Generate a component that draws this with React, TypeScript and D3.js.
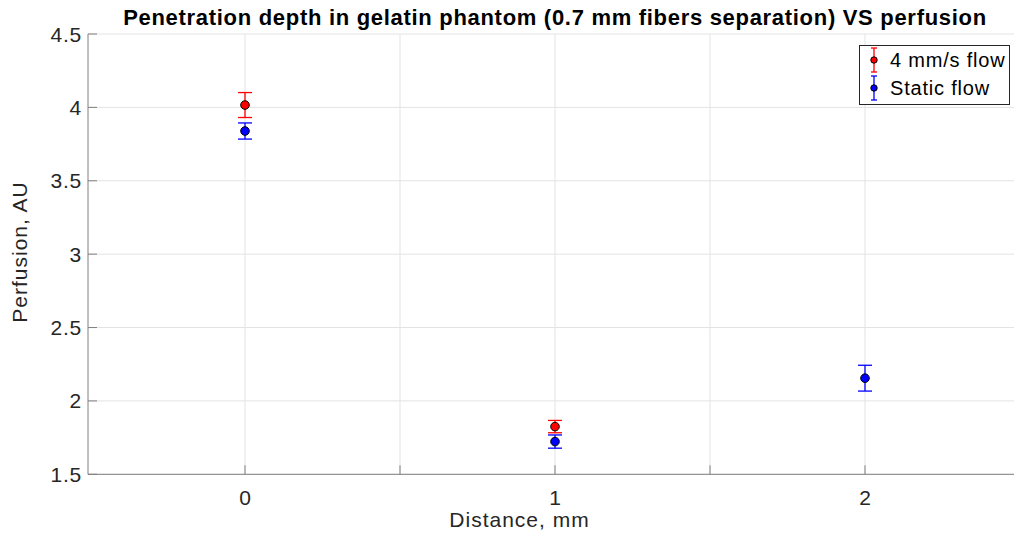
import React from "react";
import * as d3 from "d3";

const distances = [0, 1, 2];
const flowMeans = [4.016, 1.825];
const flowErrors = [0.085, 0.042];
const staticMeans = [3.839, 1.723, 2.155];
const staticErrors = [0.055, 0.045, 0.088];
const xTicks = [0, 1, 2];
const xMinorTicks = [0.5, 1.5];
const yTicks = [1.5, 2, 2.5, 3, 3.5, 4, 4.5];

const W = 1016;
const H = 536;
const M = { left: 88, right: 2, top: 34, bottom: 62 };
const FONT = "'Liberation Sans', Arial, Helvetica, sans-serif";

type Series = { name: string; color: string; means: number[]; errors: number[] };
const series: Series[] = [
  { name: "4 mm/s flow", color: "#ff0000", means: flowMeans, errors: flowErrors },
  { name: "Static flow", color: "#0000ff", means: staticMeans, errors: staticErrors },
];

export default function App() {
  const x = d3.scaleLinear().domain([0, 2]).range([245, 865]);
  const y = d3.scaleLinear().domain([1.5, 4.5]).range([474.3, M.top]);
  const plotRight = W - M.right;
  const bottom = y(1.5);
  const gridX = [...xTicks, ...xMinorTicks];
  const cap = 7;

  return (
    <svg width={W} height={H} style={{ position: "absolute", left: 0, top: 0, background: "#fff" }} fontFamily={FONT}>
      {/* grid */}
      {gridX.map((t) => (
        <line key={"gx" + t} x1={x(t)} x2={x(t)} y1={M.top} y2={bottom} stroke="#e3e3e3" strokeWidth={1} />
      ))}
      {yTicks.map((t) => (
        <line key={"gy" + t} x1={M.left} x2={plotRight} y1={y(t)} y2={y(t)} stroke="#e3e3e3" strokeWidth={1} />
      ))}
      {/* axes */}
      <line x1={M.left} x2={M.left} y1={M.top} y2={bottom} stroke="#808080" strokeWidth={1} />
      <line x1={M.left} x2={plotRight} y1={bottom} y2={bottom} stroke="#808080" strokeWidth={1} />
      {yTicks.map((t) => (
        <g key={"yt" + t}>
          <line x1={M.left} x2={M.left + 9} y1={y(t)} y2={y(t)} stroke="#808080" />
          <text x={M.left - 6} y={y(t)} dy="0.36em" textAnchor="end" fontSize={21} letterSpacing={0.8} fill="#262626">
            {t}
          </text>
        </g>
      ))}
      {gridX.map((t) => (
        <line key={"xt" + t} x1={x(t)} x2={x(t)} y1={bottom} y2={bottom - 9} stroke="#808080" />
      ))}
      {xTicks.map((t) => (
        <text key={"xl" + t} x={x(t)} y={505} textAnchor="middle" fontSize={21} fill="#262626">
          {t}
        </text>
      ))}
      <text x={519.5} y={527} textAnchor="middle" fontSize={21} letterSpacing={1} fill="#262626">
        Distance, mm
      </text>
      <text
        transform={`translate(27,252) rotate(-90)`}
        textAnchor="middle"
        fontSize={21}
        letterSpacing={1}
        fill="#262626"
      >
        Perfusion, AU
      </text>
      <text x={555} y={25} textAnchor="middle" fontSize={22} fontWeight="bold" letterSpacing={0.7} fill="#000">
        Penetration depth in gelatin phantom (0.7 mm fibers separation) VS perfusion
      </text>
      {/* error bars and markers */}
      {series.map((s) =>
        s.means.map((m, i) => {
          const cx = x(distances[i]);
          const e = s.errors[i];
          return (
            <g key={s.name + i}>
              <line x1={cx} x2={cx} y1={y(m + e)} y2={y(m - e)} stroke={s.color} strokeWidth={1.3} />
              <line x1={cx - cap} x2={cx + cap} y1={y(m + e)} y2={y(m + e)} stroke={s.color} strokeWidth={1.3} />
              <line x1={cx - cap} x2={cx + cap} y1={y(m - e)} y2={y(m - e)} stroke={s.color} strokeWidth={1.3} />
              <circle cx={cx} cy={y(m)} r={4.3} fill={s.color} stroke="#000" strokeWidth={1} />
            </g>
          );
        })
      )}
      {/* legend */}
      <g>
        <rect x={859.5} y={45.5} width={150} height={59} fill="#fff" stroke="#262626" strokeWidth={1} />
        {series.map((s, i) => {
          const ly = 60 + i * 28;
          const lx = 874;
          return (
            <g key={"lg" + s.name}>
              <line x1={lx} x2={lx} y1={ly - 12} y2={ly + 12} stroke={s.color} strokeWidth={1.3} />
              <line x1={lx - 3} x2={lx + 3} y1={ly - 12} y2={ly - 12} stroke={s.color} strokeWidth={1.3} />
              <line x1={lx - 3} x2={lx + 3} y1={ly + 12} y2={ly + 12} stroke={s.color} strokeWidth={1.3} />
              <circle cx={lx} cy={ly} r={3.2} fill={s.color} stroke="#000" strokeWidth={1} />
              <text x={890} y={ly} dy="0.36em" fontSize={20} letterSpacing={0.8} fill="#000">
                {s.name}
              </text>
            </g>
          );
        })}
      </g>
    </svg>
  );
}
